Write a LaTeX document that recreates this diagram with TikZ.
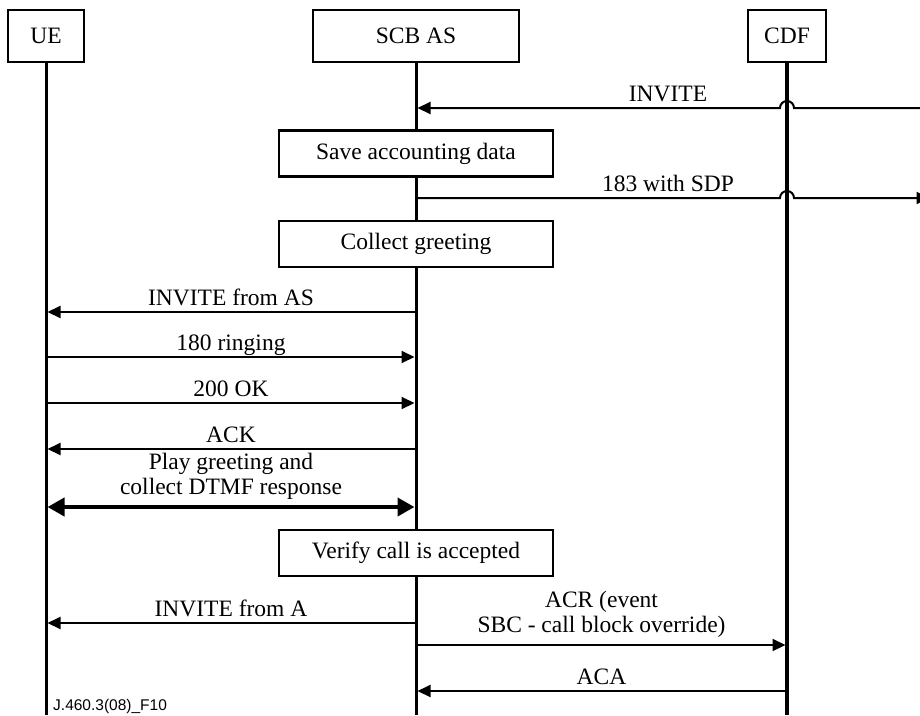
\documentclass[tikz,border=0pt]{standalone}
\usepackage{fontspec}
\setmainfont{Liberation Serif}
\newfontfamily\figsans{Liberation Sans}
\usetikzlibrary{arrows.meta,calc}
\begin{document}
\begin{tikzpicture}[x=1pt,y=-1pt,
  every node/.style={font=\fontsize{23.5}{25}\selectfont},
  actor/.style={draw,line width=2.4pt,fill=white,minimum height=52pt,inner sep=0pt},
  procbox/.style={draw,line width=2.4pt,fill=white,minimum width=274pt,minimum height=46pt,inner sep=0pt},
  lifeline/.style={line width=3pt},
  msg/.style={line width=2pt,-{Triangle[length=13pt,width=12pt]},shorten >=1.5pt},
  dmsg/.style={line width=4pt,{Triangle[length=17pt,width=18pt]}-{Triangle[length=17pt,width=18pt]},
    shorten >=1.5pt,shorten <=1.5pt},
  lbl/.style={anchor=base,yshift=7pt,inner sep=0pt},
  lbltwo/.style={anchor=south,align=center,inner sep=0pt},
]
\clip (0,0) rectangle (920,715);

% participants
\node[actor,minimum width=76pt] (ue) at (46,36) {UE};
\node[actor,minimum width=206pt] (scb) at (416,36) {SCB AS};
\node[actor,minimum width=78pt] (cdf) at (787,36) {CDF};

% lifeline ends and off-page ends
\coordinate (ueEnd) at (46,715);
\coordinate (scbEnd) at (416,715);
\coordinate (cdfEnd) at (787,715);
\coordinate (east) at (920,0);
\coordinate (eastOut) at (931,0);

\draw[lifeline] (ue) -- (ueEnd);
\draw[lifeline] (scb) -- (scbEnd);
\draw[lifeline,line width=3.6pt] (cdf) -- (cdfEnd);

% message rows
\coordinate (rInvite) at (0,108);
\coordinate (rSdp) at (0,198);
\coordinate (rIfas) at (0,312);
\coordinate (rRing) at (0,357);
\coordinate (rOk) at (0,403);
\coordinate (rAck) at (0,449);
\coordinate (rPlay) at (0,507);
\coordinate (rIfa) at (0,623);
\coordinate (rAcr) at (0,645);
\coordinate (rAca) at (0,691);

% incoming INVITE, hopping over the CDF lifeline
\draw[msg] (east |- rInvite) -- ($(cdf |- rInvite)+(7,0)$)
  arc[start angle=0,end angle=-180,radius=7] -- (scb |- rInvite);
\node[lbl] (lInvite) at ($(scb |- rInvite)!0.5!(east |- rInvite)$) {INVITE};

\node[procbox] (save) at (416,153.5) {Save accounting data};

% 183 back towards the caller, hopping over the CDF lifeline
\draw[msg] (scb |- rSdp) -- ($(cdf |- rSdp)+(-7,0)$)
  arc[start angle=180,end angle=360,radius=7] -- (eastOut |- rSdp);
\node[lbl] (lSdp) at ($(scb |- rSdp)!0.5!(east |- rSdp)$) {183 with SDP};

\node[procbox] (collect) at (416,244) {Collect greeting};

\draw[msg] (scb |- rIfas) -- (ue |- rIfas) node[lbl,midway] {INVITE from AS};
\draw[msg] (ue |- rRing) -- (scb |- rRing) node[lbl,midway] {180 ringing};
\draw[msg] (ue |- rOk) -- (scb |- rOk) node[lbl,midway] {200 OK};
\draw[msg] (scb |- rAck) -- (ue |- rAck) node[lbl,midway] {ACK};
\draw[dmsg] (ue |- rPlay) -- (scb |- rPlay)
  node[lbltwo,midway,yshift=6pt] {Play greeting and\\collect DTMF response};

\node[procbox] (verify) at (416,553) {Verify call is accepted};

\draw[msg] (scb |- rIfa) -- (ue |- rIfa) node[lbl,midway] {INVITE from A};
\draw[msg] (scb |- rAcr) -- (cdf |- rAcr)
  node[lbltwo,midway,yshift=7pt] {ACR (event\\SBC - call block override)};
\draw[msg] (cdf |- rAca) -- (scb |- rAca) node[lbl,midway] {ACA};

\node[font=\figsans\fontsize{15.5}{18}\selectfont,anchor=base west,inner sep=0pt]
  (figid) at (53,710) {J.460.3(08)\_F10};
\end{tikzpicture}
\end{document}
